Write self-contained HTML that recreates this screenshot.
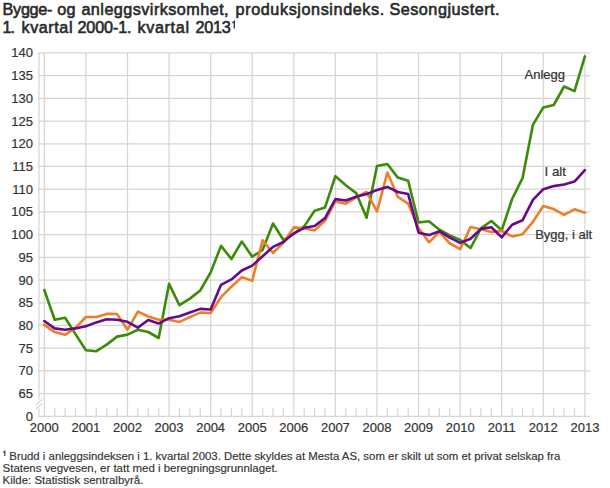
<!DOCTYPE html>
<html><head><meta charset="utf-8">
<style>
html,body{margin:0;padding:0;background:#fff;width:610px;height:488px;overflow:hidden}
svg{display:block}
text{font-family:"Liberation Sans",sans-serif;fill:#333}
.ax{font-size:13px;fill:#333;stroke:#333;stroke-width:0.2}
.lbl{font-size:13px;fill:#333;stroke:#333;stroke-width:0.2}
.title{font-size:16.2px;font-weight:normal;fill:#2a2a2a;stroke:#2a2a2a;stroke-width:0.6}
.sup{font-size:10px;fill:#2a2a2a;stroke:#2a2a2a;stroke-width:0.3}
.sup2{font-size:7px;fill:#333}
.fn{font-size:10.6px;fill:#333;stroke:#333;stroke-width:0.15}
</style></head>
<body>
<svg width="610" height="488" viewBox="0 0 610 488">
<line x1="38.5" y1="52.90" x2="590" y2="52.90" stroke="#d6d6d6" stroke-width="1.25"/>
<text x="33" y="57.40" text-anchor="end" class="ax">140</text>
<line x1="38.5" y1="75.61" x2="590" y2="75.61" stroke="#d6d6d6" stroke-width="1.25"/>
<text x="33" y="80.11" text-anchor="end" class="ax">135</text>
<line x1="38.5" y1="98.33" x2="590" y2="98.33" stroke="#d6d6d6" stroke-width="1.25"/>
<text x="33" y="102.83" text-anchor="end" class="ax">130</text>
<line x1="38.5" y1="121.04" x2="590" y2="121.04" stroke="#d6d6d6" stroke-width="1.25"/>
<text x="33" y="125.54" text-anchor="end" class="ax">125</text>
<line x1="38.5" y1="143.75" x2="590" y2="143.75" stroke="#d6d6d6" stroke-width="1.25"/>
<text x="33" y="148.25" text-anchor="end" class="ax">120</text>
<line x1="38.5" y1="166.47" x2="590" y2="166.47" stroke="#d6d6d6" stroke-width="1.25"/>
<text x="33" y="170.97" text-anchor="end" class="ax">115</text>
<line x1="38.5" y1="189.18" x2="590" y2="189.18" stroke="#d6d6d6" stroke-width="1.25"/>
<text x="33" y="193.68" text-anchor="end" class="ax">110</text>
<line x1="38.5" y1="211.89" x2="590" y2="211.89" stroke="#d6d6d6" stroke-width="1.25"/>
<text x="33" y="216.39" text-anchor="end" class="ax">105</text>
<line x1="38.5" y1="234.61" x2="590" y2="234.61" stroke="#d6d6d6" stroke-width="1.25"/>
<text x="33" y="239.11" text-anchor="end" class="ax">100</text>
<line x1="38.5" y1="257.32" x2="590" y2="257.32" stroke="#d6d6d6" stroke-width="1.25"/>
<text x="33" y="261.82" text-anchor="end" class="ax">95</text>
<line x1="38.5" y1="280.03" x2="590" y2="280.03" stroke="#d6d6d6" stroke-width="1.25"/>
<text x="33" y="284.53" text-anchor="end" class="ax">90</text>
<line x1="38.5" y1="302.75" x2="590" y2="302.75" stroke="#d6d6d6" stroke-width="1.25"/>
<text x="33" y="307.25" text-anchor="end" class="ax">85</text>
<line x1="38.5" y1="325.46" x2="590" y2="325.46" stroke="#d6d6d6" stroke-width="1.25"/>
<text x="33" y="329.96" text-anchor="end" class="ax">80</text>
<line x1="38.5" y1="348.17" x2="590" y2="348.17" stroke="#d6d6d6" stroke-width="1.25"/>
<text x="33" y="352.67" text-anchor="end" class="ax">75</text>
<line x1="38.5" y1="370.89" x2="590" y2="370.89" stroke="#d6d6d6" stroke-width="1.25"/>
<text x="33" y="375.39" text-anchor="end" class="ax">70</text>
<line x1="38.5" y1="393.60" x2="590" y2="393.60" stroke="#d6d6d6" stroke-width="1.25"/>
<text x="33" y="398.10" text-anchor="end" class="ax">65</text>
<text x="33" y="421.3" text-anchor="end" class="ax">0</text>
<line x1="44.30" y1="52.40" x2="44.30" y2="416.5" stroke="#d6d6d6" stroke-width="1.25"/>
<text x="44.30" y="432" text-anchor="middle" class="ax">2000</text>
<line x1="85.88" y1="52.40" x2="85.88" y2="416.5" stroke="#d6d6d6" stroke-width="1.25"/>
<text x="85.88" y="432" text-anchor="middle" class="ax">2001</text>
<line x1="127.47" y1="52.40" x2="127.47" y2="416.5" stroke="#d6d6d6" stroke-width="1.25"/>
<text x="127.47" y="432" text-anchor="middle" class="ax">2002</text>
<line x1="169.05" y1="52.40" x2="169.05" y2="416.5" stroke="#d6d6d6" stroke-width="1.25"/>
<text x="169.05" y="432" text-anchor="middle" class="ax">2003</text>
<line x1="210.64" y1="52.40" x2="210.64" y2="416.5" stroke="#d6d6d6" stroke-width="1.25"/>
<text x="210.64" y="432" text-anchor="middle" class="ax">2004</text>
<line x1="252.22" y1="52.40" x2="252.22" y2="416.5" stroke="#d6d6d6" stroke-width="1.25"/>
<text x="252.22" y="432" text-anchor="middle" class="ax">2005</text>
<line x1="293.81" y1="52.40" x2="293.81" y2="416.5" stroke="#d6d6d6" stroke-width="1.25"/>
<text x="293.81" y="432" text-anchor="middle" class="ax">2006</text>
<line x1="335.39" y1="52.40" x2="335.39" y2="416.5" stroke="#d6d6d6" stroke-width="1.25"/>
<text x="335.39" y="432" text-anchor="middle" class="ax">2007</text>
<line x1="376.98" y1="52.40" x2="376.98" y2="416.5" stroke="#d6d6d6" stroke-width="1.25"/>
<text x="376.98" y="432" text-anchor="middle" class="ax">2008</text>
<line x1="418.56" y1="52.40" x2="418.56" y2="416.5" stroke="#d6d6d6" stroke-width="1.25"/>
<text x="418.56" y="432" text-anchor="middle" class="ax">2009</text>
<line x1="460.15" y1="52.40" x2="460.15" y2="416.5" stroke="#d6d6d6" stroke-width="1.25"/>
<text x="460.15" y="432" text-anchor="middle" class="ax">2010</text>
<line x1="501.73" y1="52.40" x2="501.73" y2="416.5" stroke="#d6d6d6" stroke-width="1.25"/>
<text x="501.73" y="432" text-anchor="middle" class="ax">2011</text>
<line x1="543.32" y1="52.40" x2="543.32" y2="416.5" stroke="#d6d6d6" stroke-width="1.25"/>
<text x="543.32" y="432" text-anchor="middle" class="ax">2012</text>
<line x1="584.90" y1="52.40" x2="584.90" y2="416.5" stroke="#d6d6d6" stroke-width="1.25"/>
<text x="584.90" y="432" text-anchor="middle" class="ax">2013</text>
<line x1="54.70" y1="408" x2="54.70" y2="416" stroke="#d6d6d6" stroke-width="1.25"/>
<line x1="65.09" y1="408" x2="65.09" y2="416" stroke="#d6d6d6" stroke-width="1.25"/>
<line x1="75.49" y1="408" x2="75.49" y2="416" stroke="#d6d6d6" stroke-width="1.25"/>
<line x1="96.28" y1="408" x2="96.28" y2="416" stroke="#d6d6d6" stroke-width="1.25"/>
<line x1="106.68" y1="408" x2="106.68" y2="416" stroke="#d6d6d6" stroke-width="1.25"/>
<line x1="117.07" y1="408" x2="117.07" y2="416" stroke="#d6d6d6" stroke-width="1.25"/>
<line x1="137.87" y1="408" x2="137.87" y2="416" stroke="#d6d6d6" stroke-width="1.25"/>
<line x1="148.26" y1="408" x2="148.26" y2="416" stroke="#d6d6d6" stroke-width="1.25"/>
<line x1="158.66" y1="408" x2="158.66" y2="416" stroke="#d6d6d6" stroke-width="1.25"/>
<line x1="179.45" y1="408" x2="179.45" y2="416" stroke="#d6d6d6" stroke-width="1.25"/>
<line x1="189.85" y1="408" x2="189.85" y2="416" stroke="#d6d6d6" stroke-width="1.25"/>
<line x1="200.24" y1="408" x2="200.24" y2="416" stroke="#d6d6d6" stroke-width="1.25"/>
<line x1="221.03" y1="408" x2="221.03" y2="416" stroke="#d6d6d6" stroke-width="1.25"/>
<line x1="231.43" y1="408" x2="231.43" y2="416" stroke="#d6d6d6" stroke-width="1.25"/>
<line x1="241.83" y1="408" x2="241.83" y2="416" stroke="#d6d6d6" stroke-width="1.25"/>
<line x1="262.62" y1="408" x2="262.62" y2="416" stroke="#d6d6d6" stroke-width="1.25"/>
<line x1="273.02" y1="408" x2="273.02" y2="416" stroke="#d6d6d6" stroke-width="1.25"/>
<line x1="283.41" y1="408" x2="283.41" y2="416" stroke="#d6d6d6" stroke-width="1.25"/>
<line x1="304.20" y1="408" x2="304.20" y2="416" stroke="#d6d6d6" stroke-width="1.25"/>
<line x1="314.60" y1="408" x2="314.60" y2="416" stroke="#d6d6d6" stroke-width="1.25"/>
<line x1="325.00" y1="408" x2="325.00" y2="416" stroke="#d6d6d6" stroke-width="1.25"/>
<line x1="345.79" y1="408" x2="345.79" y2="416" stroke="#d6d6d6" stroke-width="1.25"/>
<line x1="356.18" y1="408" x2="356.18" y2="416" stroke="#d6d6d6" stroke-width="1.25"/>
<line x1="366.58" y1="408" x2="366.58" y2="416" stroke="#d6d6d6" stroke-width="1.25"/>
<line x1="387.37" y1="408" x2="387.37" y2="416" stroke="#d6d6d6" stroke-width="1.25"/>
<line x1="397.77" y1="408" x2="397.77" y2="416" stroke="#d6d6d6" stroke-width="1.25"/>
<line x1="408.17" y1="408" x2="408.17" y2="416" stroke="#d6d6d6" stroke-width="1.25"/>
<line x1="428.96" y1="408" x2="428.96" y2="416" stroke="#d6d6d6" stroke-width="1.25"/>
<line x1="439.35" y1="408" x2="439.35" y2="416" stroke="#d6d6d6" stroke-width="1.25"/>
<line x1="449.75" y1="408" x2="449.75" y2="416" stroke="#d6d6d6" stroke-width="1.25"/>
<line x1="470.54" y1="408" x2="470.54" y2="416" stroke="#d6d6d6" stroke-width="1.25"/>
<line x1="480.94" y1="408" x2="480.94" y2="416" stroke="#d6d6d6" stroke-width="1.25"/>
<line x1="491.33" y1="408" x2="491.33" y2="416" stroke="#d6d6d6" stroke-width="1.25"/>
<line x1="512.13" y1="408" x2="512.13" y2="416" stroke="#d6d6d6" stroke-width="1.25"/>
<line x1="522.52" y1="408" x2="522.52" y2="416" stroke="#d6d6d6" stroke-width="1.25"/>
<line x1="532.92" y1="408" x2="532.92" y2="416" stroke="#d6d6d6" stroke-width="1.25"/>
<line x1="553.71" y1="408" x2="553.71" y2="416" stroke="#d6d6d6" stroke-width="1.25"/>
<line x1="564.11" y1="408" x2="564.11" y2="416" stroke="#d6d6d6" stroke-width="1.25"/>
<line x1="574.50" y1="408" x2="574.50" y2="416" stroke="#d6d6d6" stroke-width="1.25"/>
<line x1="39" y1="52.40" x2="39" y2="399.5" stroke="#d6d6d6" stroke-width="1.25"/>
<line x1="39" y1="408.5" x2="39" y2="416.8" stroke="#d6d6d6" stroke-width="1.25"/>
<line x1="36" y1="405" x2="42" y2="399.5" stroke="#d6d6d6" stroke-width="1.2"/>
<line x1="36" y1="409" x2="42" y2="403.5" stroke="#d6d6d6" stroke-width="1.2"/>
<line x1="38.3" y1="416.3" x2="590" y2="416.3" stroke="#d6d6d6" stroke-width="1.25"/>
<polyline points="44.30,290.00 54.70,319.70 65.09,317.70 75.49,334.10 85.88,350.20 96.28,351.20 106.68,344.60 117.07,336.60 127.47,334.60 137.87,329.80 148.26,332.00 158.66,338.00 169.05,283.90 179.45,305.20 189.85,298.60 200.24,290.50 210.64,272.40 221.03,245.90 231.43,259.00 241.83,241.50 252.22,256.70 262.62,250.00 273.02,223.50 283.41,240.00 293.81,233.80 304.20,226.40 314.60,210.70 325.00,207.60 335.39,176.20 345.79,185.30 356.18,193.10 366.58,217.70 376.98,166.00 387.37,164.00 397.77,177.60 408.17,180.80 418.56,222.50 428.96,221.30 439.35,229.70 449.75,235.40 460.15,239.90 470.54,248.00 480.94,228.40 491.33,221.00 501.73,230.30 512.13,199.00 522.52,178.20 532.92,124.80 543.32,107.40 553.71,105.00 564.11,86.50 574.50,91.10 584.90,56.40" fill="none" stroke="#3a8c08" stroke-width="2.6" stroke-linejoin="round" stroke-linecap="round"/>
<polyline points="44.30,324.90 54.70,332.10 65.09,334.80 75.49,327.80 85.88,317.00 96.28,317.00 106.68,313.90 117.07,314.00 127.47,329.80 137.87,311.60 148.26,316.50 158.66,319.80 169.05,319.70 179.45,321.90 189.85,317.10 200.24,312.60 210.64,313.00 221.03,297.20 231.43,286.70 241.83,277.10 252.22,280.80 262.62,240.20 273.02,253.00 283.41,242.70 293.81,227.40 304.20,228.20 314.60,230.40 325.00,220.80 335.39,201.50 345.79,203.70 356.18,197.50 366.58,192.00 376.98,211.50 387.37,172.60 397.77,196.80 408.17,203.70 418.56,228.00 428.96,242.30 439.35,232.00 449.75,243.40 460.15,249.20 470.54,227.10 480.94,229.20 491.33,232.10 501.73,230.90 512.13,236.40 522.52,234.20 532.92,221.90 543.32,206.00 553.71,209.10 564.11,214.80 574.50,209.30 584.90,212.70" fill="none" stroke="#ef7d28" stroke-width="2.6" stroke-linejoin="round" stroke-linecap="round"/>
<polyline points="44.30,321.00 54.70,328.40 65.09,329.80 75.49,328.40 85.88,326.20 96.28,322.40 106.68,319.30 117.07,319.80 127.47,321.80 137.87,327.60 148.26,320.00 158.66,323.50 169.05,318.20 179.45,316.20 189.85,312.60 200.24,308.90 210.64,309.50 221.03,284.80 231.43,279.40 241.83,270.50 252.22,265.60 262.62,256.20 273.02,246.90 283.41,242.00 293.81,233.30 304.20,227.80 314.60,226.00 325.00,218.10 335.39,199.10 345.79,200.50 356.18,196.70 366.58,194.10 376.98,190.00 387.37,186.90 397.77,192.00 408.17,194.10 418.56,232.70 428.96,235.10 439.35,231.20 449.75,237.70 460.15,242.90 470.54,238.80 480.94,228.90 491.33,227.20 501.73,237.40 512.13,224.70 522.52,220.30 532.92,199.80 543.32,189.20 553.71,186.10 564.11,184.50 574.50,181.60 584.90,170.10" fill="none" stroke="#650a8c" stroke-width="2.6" stroke-linejoin="round" stroke-linecap="round"/>
<text x="524.5" y="79.2" class="lbl" textLength="40.5" lengthAdjust="spacingAndGlyphs">Anlegg</text>
<text x="544.5" y="176" class="lbl" textLength="21.5" lengthAdjust="spacingAndGlyphs">I alt</text>
<text x="535.2" y="238.5" class="lbl" textLength="57" lengthAdjust="spacingAndGlyphs">Bygg, i alt</text>
<text x="2.60" y="14.5" class="title" textLength="49.80" lengthAdjust="spacing">Bygge-</text>
<text x="57.20" y="14.5" class="title" textLength="18.40" lengthAdjust="spacing">og</text>
<text x="81.40" y="14.5" class="title" textLength="147.20" lengthAdjust="spacing">anleggsvirksomhet,</text>
<text x="235.60" y="14.5" class="title" textLength="148.60" lengthAdjust="spacing">produksjonsindeks.</text>
<text x="389.40" y="14.5" class="title" textLength="110.20" lengthAdjust="spacing">Sesongjustert.</text>
<text x="2.50" y="32.5" class="title" textLength="12.50" lengthAdjust="spacing">1.</text>
<text x="21.50" y="32.5" class="title" textLength="51.00" lengthAdjust="spacing">kvartal</text>
<text x="77.50" y="32.5" class="title" textLength="54.00" lengthAdjust="spacing">2000-1.</text>
<text x="137.50" y="32.5" class="title" textLength="51.50" lengthAdjust="spacing">kvartal</text>
<text x="195.40" y="32.5" class="title" textLength="35.40" lengthAdjust="spacing">2013</text>
<path d="M232.4,22.9 L234.3,21.3 L234.3,28.6" fill="none" stroke="#2a2a2a" stroke-width="1.25"/>
<path d="M3.5,452.5 L4.8,451.3 L4.8,455.9" fill="none" stroke="#333" stroke-width="1.1"/>
<text x="9.3" y="459.8" class="fn" textLength="551" lengthAdjust="spacingAndGlyphs">Brudd i anleggsindeksen i 1. kvartal 2003. Dette skyldes at Mesta AS, som er skilt ut som et privat selskap fra</text>
<text x="2.6" y="472.3" class="fn" textLength="275.2" lengthAdjust="spacingAndGlyphs">Statens vegvesen, er tatt med i beregningsgrunnlaget.</text>
<text x="2.6" y="484.1" class="fn" textLength="140.8" lengthAdjust="spacingAndGlyphs">Kilde: Statistisk sentralbyrå.</text>
</svg>
</body></html>
